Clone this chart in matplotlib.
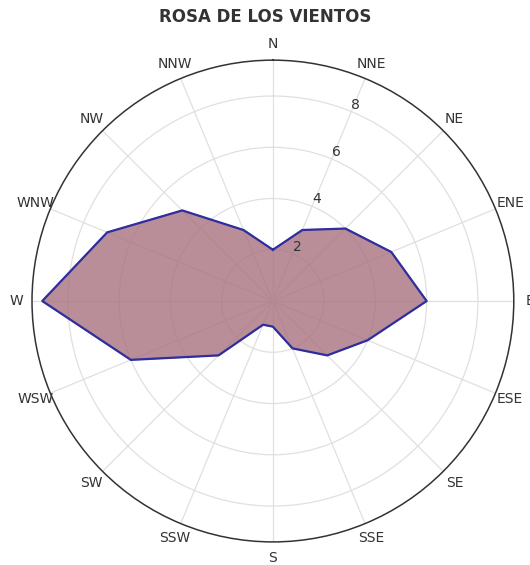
import numpy as np
import matplotlib
matplotlib.use("Agg")
import matplotlib.pyplot as plt

directions = ["N", "NNE", "NE", "ENE", "E", "ESE", "SE", "SSE",
              "S", "SSW", "SW", "WSW", "W", "WNW", "NW", "NNW"]
frequencies = [2, 3, 4, 5, 6, 4, 3, 2, 1, 1, 3, 6, 9, 7, 5, 3]
radial_ticks = [2, 4, 6, 8]
title = "ROSA DE LOS VIENTOS"

angles = np.deg2rad(np.arange(len(directions)) * 360.0 / len(directions))
ang_closed = np.append(angles, angles[0])
val_closed = np.append(frequencies, frequencies[0])

fig = plt.figure(figsize=(5.3, 5.65), dpi=100)
ax = fig.add_axes([0.0604, 0.0407, 0.909, 0.853], projection="polar")
ax.set_theta_zero_location("N")
ax.set_theta_direction(-1)

ax.fill(ang_closed, val_closed, color="#a87280", alpha=0.8, zorder=1)
ax.plot(ang_closed, val_closed, color="#2e2e9e", linewidth=1.6, zorder=3)

ax.set_ylim(0, 9.4)
ax.set_yticks(radial_ticks)
ax.set_yticklabels([])
rlab = np.deg2rad(22.5)
for t in radial_ticks:
    ax.text(rlab, t, str(t), color="#333333", fontsize=10,
            ha="left", va="bottom", zorder=5)
ax.set_xticks(angles)
ax.set_xticklabels(directions, color="#333333", fontsize=10)
ax.tick_params(axis="x", pad=1)
ax.set_axisbelow(True)
ax.grid(True, color="#e0e0e0", linewidth=0.9)
ax.spines["polar"].set_color("#333333")
ax.spines["polar"].set_linewidth(1.1)

fig.suptitle(title, fontsize=12, fontweight="bold", color="#333333", y=0.985)

fig.savefig("out.png", dpi=100)
